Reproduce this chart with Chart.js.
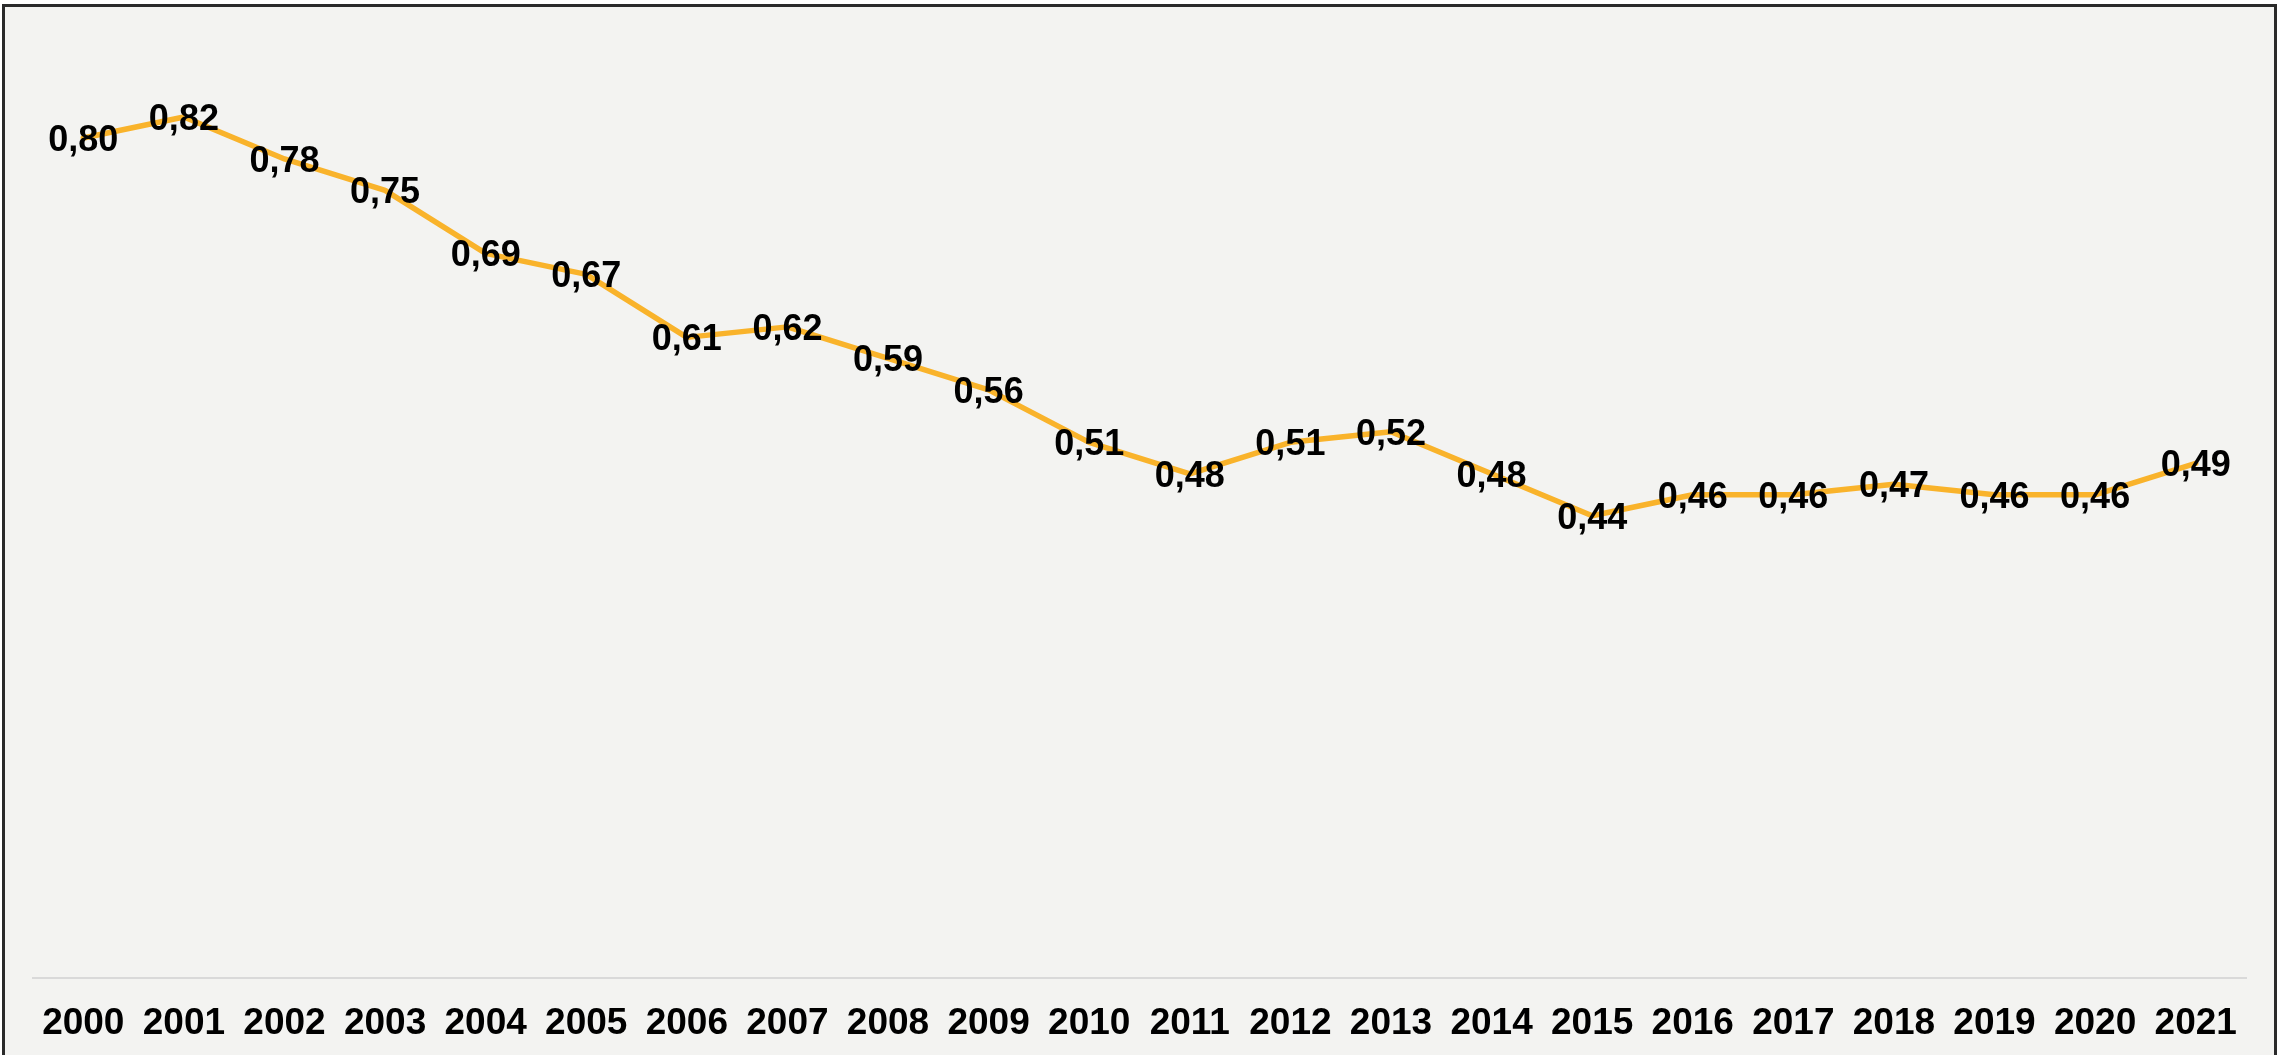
<!DOCTYPE html>
<html>
<head>
<meta charset="utf-8">
<script src="https://cdn.jsdelivr.net/npm/chart.js@4.4.1/dist/chart.umd.min.js"></script>
<style>
  html, body { margin: 0; padding: 0; background: #ffffff; width: 2287px; height: 1055px; overflow: hidden; }
  #frame { position: absolute; left: 2px; top: 4px; width: 2269px; height: 1100px; background: #F3F3F1; border: 3px solid #2a2a2a; }
  #c { position: absolute; left: 0; top: 0; }
</style>
</head>
<body>
<div id="frame"></div>
<canvas id="c" width="2287" height="1080"></canvas>
<script>
const years = ['2000','2001','2002','2003','2004','2005','2006','2007','2008','2009','2010','2011','2012','2013','2014','2015','2016','2017','2018','2019','2020','2021'];
const values = [0.80,0.82,0.78,0.75,0.69,0.67,0.61,0.62,0.59,0.56,0.51,0.48,0.51,0.52,0.48,0.44,0.46,0.46,0.47,0.46,0.46,0.49];

const FONT = '"Liberation Sans", Arial, sans-serif';

const valueLabels = {
  id: 'valueLabels',
  afterDatasetsDraw(chart) {
    const ctx = chart.ctx;
    const meta = chart.getDatasetMeta(0);
    ctx.save();
    ctx.font = 'bold 36px ' + FONT;
    ctx.fillStyle = '#000000';
    ctx.textAlign = 'center';
    ctx.textBaseline = 'middle';
    meta.data.forEach((pt, i) => {
      const txt = values[i].toFixed(2).replace('.', ',');
      ctx.fillText(txt, pt.x, pt.y + 3);
    });
    ctx.restore();
  }
};

new Chart(document.getElementById('c'), {
  type: 'line',
  data: {
    labels: years,
    datasets: [{
      data: values,
      borderColor: '#F9B32B',
      borderWidth: 5.5,
      pointRadius: 0,
      tension: 0,
      fill: false,
      borderCapStyle: 'round',
      borderJoinStyle: 'round'
    }]
  },
  options: {
    responsive: false,
    animation: false,
    devicePixelRatio: 1,
    layout: { padding: { left: 33, right: 41, top: 33, bottom: 10 } },
    plugins: { legend: { display: false }, tooltip: { enabled: false } },
    scales: {
      x: {
        offset: true,
        grid: { display: false, drawTicks: false },
        border: { display: true, color: '#D9D9D9', width: 2 },
        ticks: {
          color: '#000000',
          font: { family: FONT, size: 37, weight: 'bold' },
          padding: 24,
          maxRotation: 0,
          autoSkip: false
        }
      },
      y: {
        display: false,
        min: 0,
        max: 0.9
      }
    }
  },
  plugins: [valueLabels]
});
</script>
</body>
</html>
